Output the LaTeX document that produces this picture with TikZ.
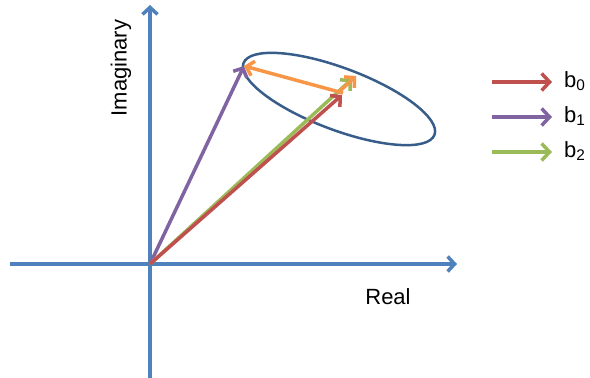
\documentclass[tikz,border=0pt]{standalone}
\usepackage{fontspec}
\setmainfont{Liberation Sans}
\usetikzlibrary{arrows.meta}
\definecolor{axisblue}{HTML}{4F81BD}
\definecolor{ellblue}{HTML}{385D8A}
\definecolor{vred}{HTML}{C0504D}
\definecolor{vpurple}{HTML}{8064A2}
\definecolor{vgreen}{HTML}{9BBB59}
\definecolor{vorange}{HTML}{F79646}
\tikzset{
  barb/.style={-{Straight Barb[length=7pt,width=15pt,line width=3.5pt]}},
  bigbarb/.style={-{Straight Barb[length=8pt,width=17pt,line width=3.5pt]}},
  axisline/.style={axisblue, line width=3.5pt, barb},
  vec/.style={line width=3.5pt, barb},
  legvec/.style={line width=3.5pt, bigbarb},
  lbl/.style={font=\fontsize{22}{26}\selectfont, inner sep=0pt},
}
\begin{document}
\begin{tikzpicture}[x=1pt,y=1pt]
\useasboundingbox (0,0) rectangle (590,378);
% coordinates
\coordinate (O) at (150,114);
\coordinate (ybot) at (150,0);
\coordinate (ytop) at (150,373);
\coordinate (xleft) at (10,114);
\coordinate (xright) at (457,114);
\coordinate (r) at (342,283);
\coordinate (g) at (352,299);
\coordinate (p) at (244,312);
\coordinate (os) at (343,285);
\coordinate (ohead) at (356,302);
\coordinate (obase) at (340,287);
% axes
\draw[axisline] (ybot) -- (ytop);
\draw[axisline] (xleft) -- (xright);
% ellipse
\draw[ellblue, line width=2.5pt, rotate around={-20.6:(339,279)}] (339,279) ellipse [x radius=102, y radius=31];
% vectors
\draw[vec, vpurple] (O) -- (p);
\draw[vec, vgreen] (O) -- (g);
\draw[vec, vred] (O) -- (r);
\draw[vec, vorange] (os) -- (p);
\draw[vec, vorange] (obase) -- (ohead);
% legend
\coordinate (l0a) at (492,296); \coordinate (l0b) at (552,296);
\coordinate (l1a) at (492,261); \coordinate (l1b) at (552,261);
\coordinate (l2a) at (492,226); \coordinate (l2b) at (552,226);
\draw[legvec, vred] (l0a) -- (l0b);
\draw[legvec, vpurple] (l1a) -- (l1b);
\draw[legvec, vgreen] (l2a) -- (l2b);
\node[lbl, anchor=west] (b0) at (564,297) {b\textsubscript{0}};
\node[lbl, anchor=west] (b1) at (564,262) {b\textsubscript{1}};
\node[lbl, anchor=west] (b2) at (564,227) {b\textsubscript{2}};
% labels
\node[lbl, rotate=90] (im) at (121,310) {Imaginary};
\node[lbl] (re) at (388,81) {Real};
\end{tikzpicture}
\end{document}
